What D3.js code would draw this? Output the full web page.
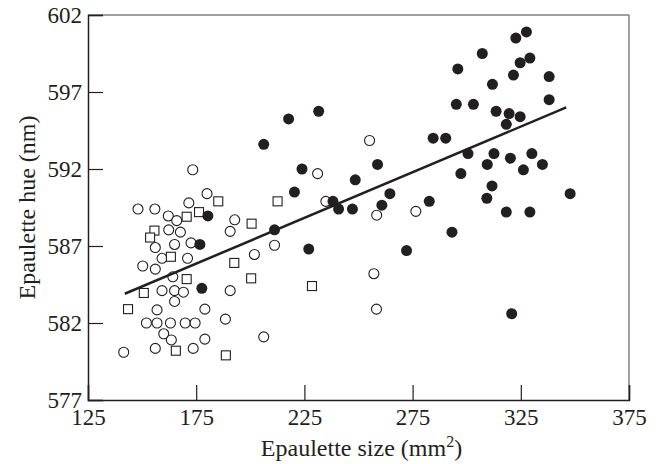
<!DOCTYPE html>
<html>
<head>
<meta charset="utf-8">
<script src="https://cdn.jsdelivr.net/npm/d3@7"></script>
<style>
  body { margin: 0; background: #fff; }
  text { font-family: "Liberation Serif", "DejaVu Serif", serif; fill: #231f20; }
</style>
</head>
<body>
<svg id="chart" width="658" height="464"></svg>
<script>
// tick values
const xTicks = [125, 175, 225, 275, 325, 375];
const yTicks = [577, 582, 587, 592, 597, 602];

// filled circles
const filledX = [327.6, 322.7, 307.2, 329.2, 324.7, 295.9, 321.6, 338.1, 311.9, 338.1, 295.2, 303.1, 313.6, 319.6, 324.7, 318.3, 284.5, 290.3, 300.6, 312.6, 330.1, 320.2, 309.5, 335.0, 326.2, 297.3, 311.7, 347.8, 309.3, 282.7, 318.3, 329.2, 293.2, 272.2, 320.8,
                 206.2, 217.7, 231.6, 223.9, 258.8, 248.5, 220.4, 264.5, 260.8, 238.2, 240.8, 247.2, 211.2, 227.0, 180.4, 176.7, 177.6];
const filledY = [600.9, 600.5, 599.5, 599.2, 598.9, 598.5, 598.1, 598.0, 597.5, 596.5, 596.2, 596.2, 595.75, 595.6, 595.4, 594.9, 594.0, 594.0, 593.0, 593.0, 593.0, 592.7, 592.3, 592.3, 591.95, 591.7, 590.9, 590.4, 590.1, 589.9, 589.2, 589.2, 587.9, 586.7, 582.6,
                 593.6, 595.25, 595.75, 592.0, 592.3, 591.3, 590.5, 590.4, 589.65, 589.9, 589.4, 589.4, 588.05, 586.8, 588.95, 587.1, 584.25];

// open circles
const openX = [173.4, 180.0, 171.6, 148.1, 155.9, 162.1, 166.0, 192.8, 162.3, 167.7, 190.7, 156.1, 165.0, 172.6, 211.2, 159.2, 171.0, 201.9, 150.3, 156.1, 164.2, 159.2, 165.0, 169.1, 165.0, 190.7, 156.9, 179.0, 152.0, 156.9, 163.1, 169.9, 174.5, 188.5, 160.0, 163.5, 179.0, 206.2, 141.5, 156.1, 173.6,
               231.1, 234.9, 255.1, 258.4, 276.5, 257.1, 258.3];
const openY = [591.95, 590.4, 589.8, 589.4, 589.4, 588.95, 588.65, 588.7, 588.05, 587.9, 587.95, 586.9, 587.1, 587.2, 587.05, 586.2, 586.2, 586.45, 585.7, 585.5, 585.0, 584.1, 584.1, 584.0, 583.4, 584.1, 582.85, 582.9, 582.0, 582.0, 582.0, 582.0, 582.0, 582.25, 581.3, 580.9, 580.95, 581.1, 580.1, 580.35, 580.35,
               591.7, 589.9, 593.85, 589.0, 589.25, 585.2, 582.9];

// open squares
const squareX = [185.2, 212.6, 176.3, 170.6, 200.6, 155.7, 153.7, 163.3, 192.6, 170.6, 200.4, 150.8, 228.5, 143.5, 165.6, 188.7];
const squareY = [589.9, 589.9, 589.2, 588.9, 588.45, 588.0, 587.55, 586.3, 585.9, 584.85, 584.9, 583.95, 584.4, 582.9, 580.2, 579.9];

// regression line end points
const fitX = [142, 346];
const fitY = [583.9, 596.0];

const width = 658, height = 464;
const margin = {top: 15, right: 29, bottom: 64, left: 88};
const ink = "#231f20";

const svg = d3.select("#chart");

const x = d3.scaleLinear().domain([125, 375]).range([margin.left, width - margin.right]);
const y = d3.scaleLinear().domain([577, 602]).range([height - margin.bottom, margin.top]);

// frame (top and right lighter)
svg.append("line")
    .attr("x1", x(125)).attr("x2", x(375))
    .attr("y1", y(602)).attr("y2", y(602))
    .attr("stroke", "#808080").attr("stroke-width", 1.5);
svg.append("line")
    .attr("x1", x(375)).attr("x2", x(375))
    .attr("y1", y(602)).attr("y2", y(577))
    .attr("stroke", "#808080").attr("stroke-width", 1.5);

// axes, ticks pointing inward
const gX = svg.append("g")
    .attr("transform", `translate(0,${y(577)})`)
    .call(d3.axisBottom(x).tickValues(xTicks).tickSize(-15).tickPadding(9).tickFormat(d3.format("d")));
const gY = svg.append("g")
    .attr("transform", `translate(${x(125)},0)`)
    .call(d3.axisLeft(y).tickValues(yTicks).tickSize(-15).tickPadding(6).tickFormat(d3.format("d")));

[gX, gY].forEach(g => {
    g.select(".domain").attr("stroke", ink).attr("stroke-width", 1.5);
    g.selectAll(".tick line").attr("stroke", ink).attr("stroke-width", 1.2);
    g.selectAll(".tick text")
        .attr("font-size", "23px")
        .attr("font-family", "Liberation Serif, DejaVu Serif, serif")
        .attr("fill", ink);
});

// axis titles
const xTitle = svg.append("text")
    .attr("x", (x(125) + x(375)) / 2 + 3)
    .attr("y", 456)
    .attr("text-anchor", "middle")
    .attr("font-size", "24px");
xTitle.append("tspan").text("Epaulette size (mm");
xTitle.append("tspan").attr("dy", "-9").attr("font-size", "16px").text("2");
xTitle.append("tspan").attr("dy", "9").text(")");

svg.append("text")
    .attr("transform", `translate(35,${(y(577) + y(602)) / 2}) rotate(-90)`)
    .attr("text-anchor", "middle")
    .attr("font-size", "24px")
    .text("Epaulette hue (nm)");

// points
const plot = svg.append("g");

plot.selectAll(".open")
    .data(d3.zip(openX, openY))
    .join("circle")
    .attr("class", "open")
    .attr("cx", d => x(d[0]))
    .attr("cy", d => y(d[1]))
    .attr("r", 5)
    .attr("fill", "#fff")
    .attr("stroke", ink)
    .attr("stroke-width", 1.1);

plot.selectAll(".square")
    .data(d3.zip(squareX, squareY))
    .join("rect")
    .attr("class", "square")
    .attr("x", d => x(d[0]) - 4.5)
    .attr("y", d => y(d[1]) - 4.5)
    .attr("width", 9)
    .attr("height", 9)
    .attr("fill", "#fff")
    .attr("stroke", ink)
    .attr("stroke-width", 1.1);

plot.selectAll(".filled")
    .data(d3.zip(filledX, filledY))
    .join("circle")
    .attr("class", "filled")
    .attr("cx", d => x(d[0]))
    .attr("cy", d => y(d[1]))
    .attr("r", 5.5)
    .attr("fill", ink);

// fitted line
svg.append("path")
    .datum(d3.zip(fitX, fitY))
    .attr("d", d3.line().x(d => x(d[0])).y(d => y(d[1])))
    .attr("fill", "none")
    .attr("stroke", ink)
    .attr("stroke-width", 2.5);
</script>
</body>
</html>
